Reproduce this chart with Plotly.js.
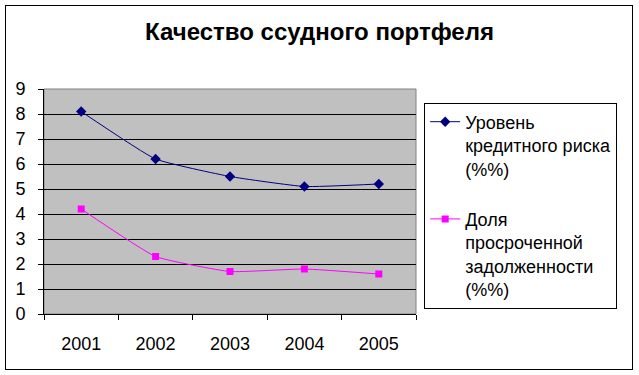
<!DOCTYPE html>
<html>
<head>
<meta charset="utf-8">
<script src="https://cdn.plot.ly/plotly-3.0.1.min.js"></script>
<style>
html,body{margin:0;padding:0;background:#fff;}
#wrap{position:relative;width:639px;height:375px;}
#chart{width:639px;height:375px;}
#frame{position:absolute;left:5px;top:5px;width:626px;height:363px;border:1px solid #000;pointer-events:none;}
</style>
</head>
<body>
<div id="wrap"><div id="chart"></div><div id="frame"></div></div>
<script>
const years = ['2001', '2002', '2003', '2004', '2005'];
const creditRisk = [8.1, 6.2, 5.5, 5.1, 5.2];
const overdueShare = [4.2, 2.3, 1.7, 1.8, 1.6];
const seriesNames = ['Уровень<br>кредитного риска<br>(%%)', 'Доля<br>просроченной<br>задолженности<br>(%%)'];
const titleText = 'Качество ссудного портфеля';

const font = 'Arial, "Liberation Sans", sans-serif';

const traces = [
  {x: years, y: creditRisk, name: seriesNames[0], type: 'scatter', mode: 'lines+markers',
   legendgroup: 'a',
   line: {color: '#000080', width: 1, shape: 'spline', smoothing: 0.4},
   marker: {symbol: 'diamond', size: 8, color: '#000080'}},
  {x: years, y: overdueShare, name: seriesNames[1], type: 'scatter', mode: 'lines+markers',
   legendgroup: 'b',
   line: {color: '#FF00FF', width: 1, shape: 'spline', smoothing: 0.4},
   marker: {symbol: 'square', size: 7, color: '#FF00FF'}}
];

const layout = {
  width: 639, height: 375,
  margin: {l: 44, r: 223, t: 89, b: 61, pad: 0},
  paper_bgcolor: '#ffffff',
  plot_bgcolor: '#C0C0C0',
  font: {family: font, size: 18, color: '#000'},
  title: {text: '<b>' + titleText + '</b>', font: {family: font, size: 24, color: '#000'},
          x: 0.5, xref: 'container', xanchor: 'center', y: 0.915, yref: 'container', yanchor: 'middle'},
  showlegend: true,
  legend: {x: 1.022, xanchor: 'left', y: 0.94, yanchor: 'top',
           bordercolor: '#000', borderwidth: 1, bgcolor: '#fff',
           font: {family: font, size: 18, color: '#000'},
           valign: 'top', tracegroupgap: 24, itemwidth: 30, traceorder: 'grouped'},
  xaxis: {type: 'category', range: [-0.5, 4.5], showgrid: false, zeroline: false,
          showline: true, linecolor: '#000', linewidth: 1,
          ticks: 'outside', tickson: 'boundaries', ticklen: 5, tickcolor: '#000',
          ticklabelstandoff: 13, fixedrange: true},
  yaxis: {range: [0, 9], dtick: 1, tick0: 0, showgrid: true, gridcolor: '#000', gridwidth: 1,
          zeroline: false, showline: true, linecolor: '#000', linewidth: 1,
          ticks: 'outside', ticklen: 5, tickcolor: '#000', ticklabelstandoff: 9, fixedrange: true},
  shapes: [
    {type: 'rect', xref: 'paper', yref: 'paper', x0: 0, x1: 1, y0: 0, y1: 1,
     line: {color: '#808080', width: 1}, layer: 'below'}
  ]
};

Plotly.newPlot('chart', traces, layout, {displayModeBar: false, staticPlot: true});
</script>
</body>
</html>
